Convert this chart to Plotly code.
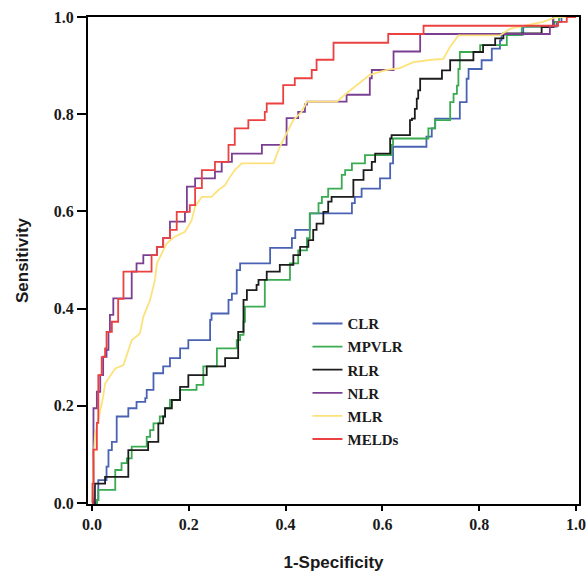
import plotly.graph_objects as go

# ROC curves (1-specificity, sensitivity)
clr_x = [0, 0.01, 0.013, 0.03, 0.034, 0.041, 0.051, 0.075, 0.092, 0.11, 0.113, 0.127, 0.147, 0.161,
         0.182, 0.199, 0.244, 0.247, 0.282, 0.289, 0.299, 0.306, 0.368, 0.413, 0.42, 0.45, 0.537,
         0.543, 0.557, 0.595, 0.616, 0.622, 0.691, 0.702, 0.709, 0.76, 0.774, 0.778, 0.805, 0.826,
         0.843, 0.846, 0.891, 0.96, 0.97, 1]
clr_y = [0, 0.006, 0.047, 0.075, 0.109, 0.126, 0.178, 0.195, 0.208, 0.216, 0.233, 0.267, 0.281, 0.298,
         0.318, 0.335, 0.377, 0.39, 0.418, 0.431, 0.479, 0.493, 0.525, 0.545, 0.562, 0.596, 0.617,
         0.63, 0.647, 0.668, 0.699, 0.733, 0.754, 0.771, 0.791, 0.825, 0.873, 0.893, 0.911, 0.935,
         0.952, 0.964, 0.98, 0.99, 1.0, 1]

mpvlr_x = [0, 0.01, 0.013, 0.048, 0.061, 0.072, 0.082, 0.113, 0.12, 0.127, 0.14, 0.151, 0.161, 0.182,
           0.216, 0.23, 0.258, 0.299, 0.306, 0.313, 0.316, 0.357, 0.409, 0.426, 0.444, 0.45, 0.468,
           0.475, 0.488, 0.516, 0.523, 0.537, 0.564, 0.619, 0.622, 0.695, 0.709, 0.74, 0.747, 0.754,
           0.757, 0.76, 0.802, 0.857, 0.888, 0.955, 0.965, 1]
mpvlr_y = [0, 0.006, 0.027, 0.068, 0.082, 0.092, 0.116, 0.136, 0.15, 0.164, 0.178, 0.195, 0.212, 0.233,
           0.243, 0.281, 0.318, 0.335, 0.346, 0.373, 0.404, 0.459, 0.493, 0.52, 0.545, 0.596, 0.617,
           0.63, 0.647, 0.675, 0.685, 0.699, 0.716, 0.737, 0.75, 0.771, 0.788, 0.825, 0.842, 0.859,
           0.893, 0.928, 0.942, 0.963, 0.98, 0.99, 1.0, 1]

rlr_x = [0, 0.006, 0.027, 0.075, 0.116, 0.137, 0.147, 0.151, 0.165, 0.182, 0.199, 0.237, 0.275, 0.302,
         0.313, 0.32, 0.34, 0.344, 0.361, 0.388, 0.416, 0.43, 0.447, 0.457, 0.464, 0.478, 0.488, 0.495,
         0.54, 0.561, 0.578, 0.585, 0.616, 0.619, 0.657, 0.661, 0.667, 0.671, 0.674, 0.678, 0.723,
         0.74, 0.788, 0.808, 0.833, 0.85, 0.929, 0.953, 1]
rlr_y = [0, 0.04, 0.054, 0.109, 0.126, 0.164, 0.178, 0.195, 0.212, 0.239, 0.263, 0.281, 0.298, 0.352,
         0.418, 0.438, 0.449, 0.459, 0.476, 0.49, 0.51, 0.527, 0.541, 0.562, 0.575, 0.599, 0.62, 0.63,
         0.665, 0.685, 0.702, 0.719, 0.75, 0.757, 0.788, 0.791, 0.811, 0.832, 0.849, 0.873, 0.89,
         0.911, 0.928, 0.942, 0.956, 0.966, 0.979, 1.0, 1]

nlr_x = [0, 0.003, 0.01, 0.017, 0.023, 0.03, 0.034, 0.037, 0.044, 0.082, 0.092, 0.106, 0.134, 0.147,
         0.161, 0.192, 0.196, 0.213, 0.254, 0.268, 0.289, 0.351, 0.402, 0.426, 0.44, 0.444, 0.526,
         0.574, 0.578, 0.623, 0.678, 0.946, 0.953, 1]
nlr_y = [0, 0.195, 0.229, 0.263, 0.301, 0.315, 0.352, 0.387, 0.421, 0.476, 0.493, 0.51, 0.527, 0.545,
         0.579, 0.599, 0.651, 0.668, 0.682, 0.702, 0.719, 0.737, 0.792, 0.805, 0.82, 0.826, 0.84,
         0.874, 0.891, 0.929, 0.965, 0.98, 1.0, 1]

mlr_x = [0, 0.001, 0.003, 0.006, 0.013, 0.023, 0.027, 0.037, 0.048, 0.065, 0.082, 0.099, 0.106, 0.12,
         0.13, 0.134, 0.147, 0.154, 0.171, 0.192, 0.206, 0.213, 0.227, 0.247, 0.261, 0.275, 0.285,
         0.295, 0.309, 0.375, 0.388, 0.402, 0.416, 0.433, 0.444, 0.506, 0.526, 0.574, 0.609, 0.636,
         0.664, 0.702, 0.726, 0.74, 0.757, 0.843, 0.864, 0.932, 0.96, 1]
mlr_y = [0, 0.013, 0.082, 0.136, 0.171, 0.219, 0.246, 0.26, 0.277, 0.284, 0.335, 0.349, 0.383, 0.418,
         0.459, 0.493, 0.521, 0.534, 0.548, 0.558, 0.582, 0.61, 0.63, 0.63, 0.644, 0.654, 0.671,
         0.685, 0.699, 0.699, 0.733, 0.761, 0.788, 0.805, 0.826, 0.826, 0.843, 0.881, 0.891, 0.895,
         0.907, 0.912, 0.914, 0.939, 0.962, 0.962, 0.976, 0.99, 1.0, 1]

melds_x = [0, 0.001, 0.003, 0.01, 0.013, 0.02, 0.027, 0.03, 0.041, 0.054, 0.065, 0.123, 0.134, 0.147,
           0.161, 0.175, 0.202, 0.213, 0.227, 0.254, 0.282, 0.295, 0.323, 0.357, 0.361, 0.395, 0.419,
           0.454, 0.464, 0.499, 0.612, 0.685, 0.963, 0.981, 1]
melds_y = [0, 0.04, 0.11, 0.165, 0.263, 0.30, 0.318, 0.352, 0.373, 0.42, 0.476, 0.51, 0.527, 0.545,
           0.562, 0.599, 0.613, 0.648, 0.685, 0.702, 0.737, 0.771, 0.788, 0.805, 0.822, 0.86, 0.874,
           0.891, 0.912, 0.947, 0.965, 0.982, 0.99, 1.0, 1]

series = [
    ("CLR", clr_x, clr_y, "#4a62b4", "hv"),
    ("MPVLR", mpvlr_x, mpvlr_y, "#3bab52", "hv"),
    ("RLR", rlr_x, rlr_y, "#1c1c1c", "hv"),
    ("NLR", nlr_x, nlr_y, "#7b3f92", "hv"),
    ("MLR", mlr_x, mlr_y, "#fde27c", "linear"),
    ("MELDs", melds_x, melds_y, "#ec4141", "hv"),
]

ticks = [0, 0.2, 0.4, 0.6, 0.8, 1.0]

fig = go.Figure()
for name, xs, ys, color, shape in series:
    fig.add_trace(go.Scatter(x=xs, y=ys, mode="lines", name=name, legendgroup=name,
                             line=dict(color=color, width=1.8, shape=shape)))

tick_font = dict(family="Liberation Serif", size=16, color="#1a1a1a", weight="bold")
title_font = dict(family="Liberation Sans", size=17, color="#1a1a1a", weight="bold")

fig.update_layout(
    width=588, height=575,
    margin=dict(l=88, r=9, t=17, b=71),
    paper_bgcolor="white", plot_bgcolor="white",
    legend=dict(x=0.447, y=0.404, xanchor="left", yanchor="top",
                bgcolor="rgba(0,0,0,0)", tracegroupgap=0.6,
                font=dict(family="Liberation Serif", size=15, color="#1a1a1a", weight="bold")),
)
fig.update_xaxes(range=[-0.0083, 1.0062], tickvals=ticks, tickformat=".1f", automargin=False,
                 showgrid=False, zeroline=False, showline=True, mirror=True,
                 linecolor="black", linewidth=2, ticks="outside", ticklen=5,
                 tickcolor="black", tickwidth=1.5, tickfont=tick_font,
                 title=dict(text="1-Specificity", font=title_font, standoff=24))
fig.update_yaxes(range=[-0.002, 1.0], tickvals=ticks, tickformat=".1f", automargin=False,
                 showgrid=False, zeroline=False, showline=True, mirror=True,
                 linecolor="black", linewidth=2, ticks="outside", ticklen=9,
                 tickcolor="black", tickwidth=1.5, tickfont=tick_font,
                 title=dict(text="Sensitivity", font=title_font, standoff=21))

# drop the browser's default body margin so the figure fills the window
fig.write_html("out.html", config={"displayModeBar": False},
               post_script="document.body.style.margin = '0px';")
